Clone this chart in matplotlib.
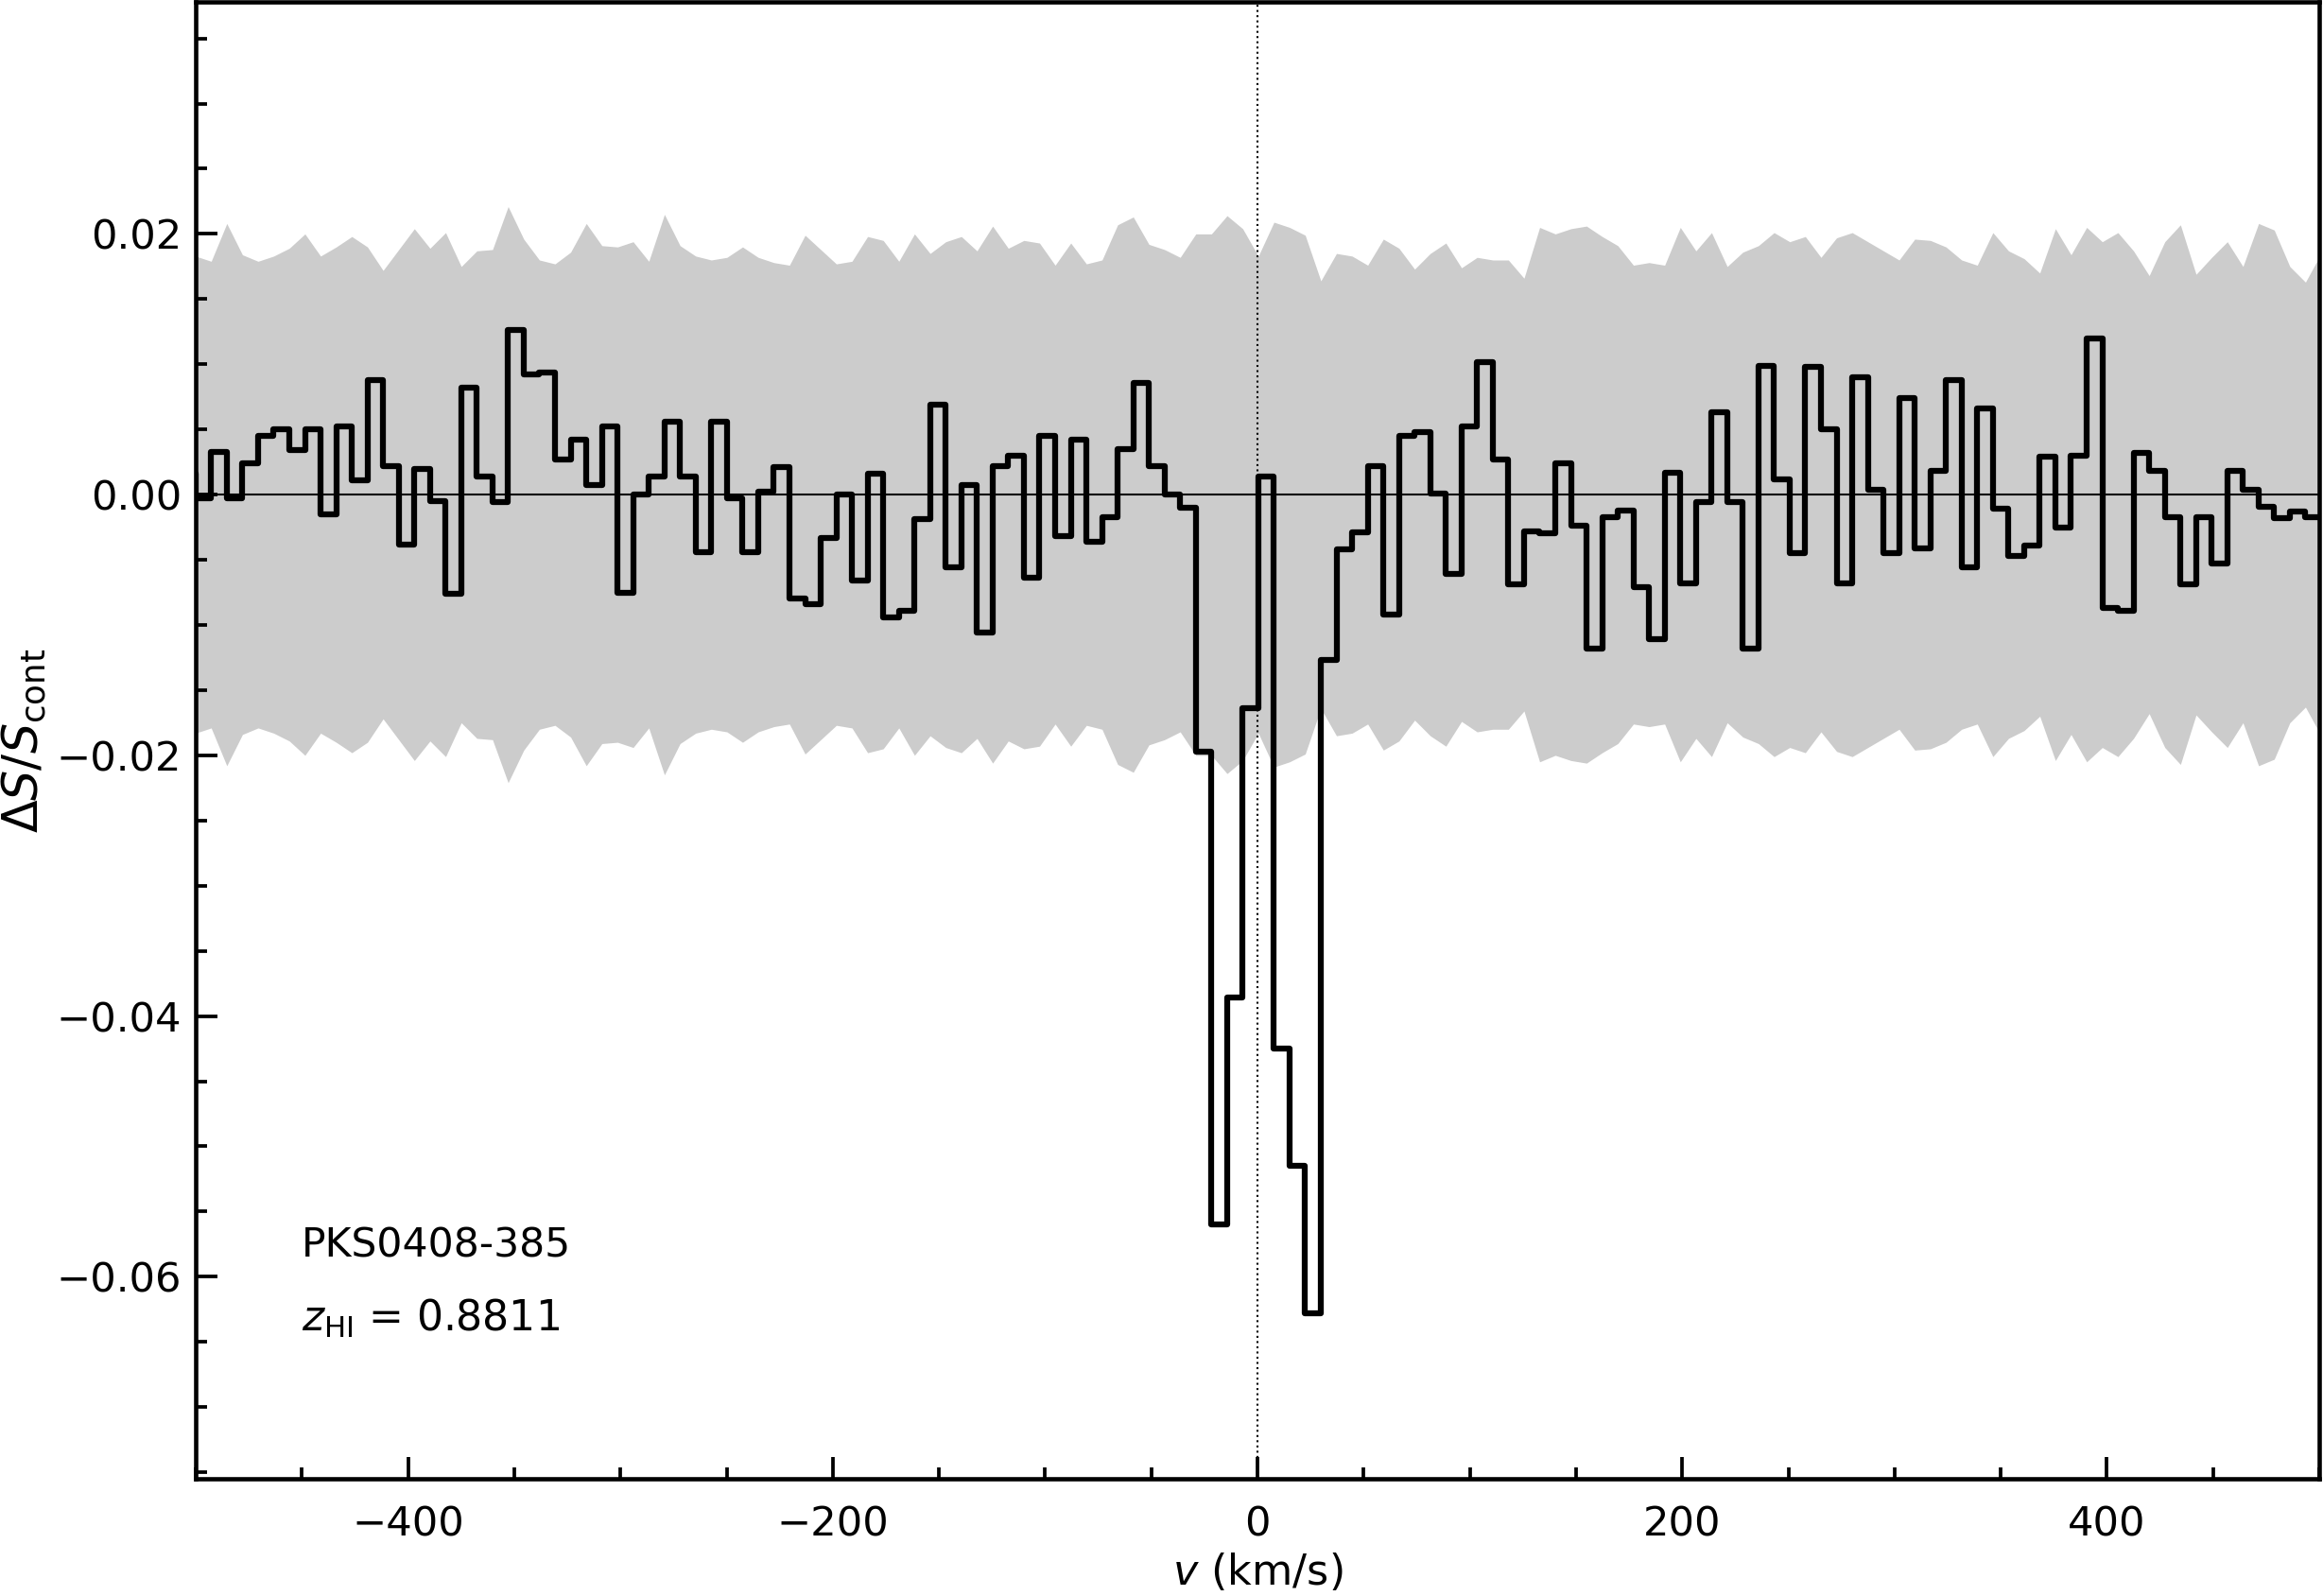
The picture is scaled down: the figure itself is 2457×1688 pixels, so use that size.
#!/usr/bin/env python

import numpy as np
from matplotlib import pyplot as plt
from matplotlib.ticker import MultipleLocator

# channel grid (km/s): first channel edge and ASKAP channel width at z=0.88
v_start = -507.44
chan_width = 7.36

# dS/S_cont per channel (value holds from this edge to the next)
flux = [0.0016, -0.0003, 0.0033, -0.0003, 0.0024, 0.0045, 0.0050, 0.0034, 0.0050, -0.0015,
        0.0052, 0.0011, 0.0088, 0.0022, -0.0038, 0.0020, -0.0005, -0.0076, 0.0082, 0.0014,
        -0.0006, 0.0126, 0.0092, 0.0094, 0.0027, 0.0042, 0.0007, 0.0052, -0.0075, 0.0000,
        0.0014, 0.0056, 0.0014, -0.0044, 0.0056, -0.0003, -0.0044, 0.0002, 0.0021, -0.0080,
        -0.0084, -0.0033, 0.0000, -0.0066, 0.0016, -0.0094, -0.0089, -0.0019, 0.0069, -0.0056,
        0.0007, -0.0106, 0.0022, 0.0030, -0.0064, 0.0045, -0.0032, 0.0042, -0.0036, -0.0017,
        0.0035, 0.0086, 0.0022, 0.0000, -0.0010, -0.0197, -0.0560, -0.0386, -0.0164, 0.0014,
        -0.0425, -0.0515, -0.0628, -0.0127, -0.0042, -0.0029, 0.0022, -0.0092, 0.0045, 0.0048,
        0.0001, -0.0061, 0.0052, 0.0102, 0.0027, -0.0069, -0.0028, -0.0030, 0.0024, -0.0024,
        -0.0118, -0.0017, -0.0012, -0.0071, -0.0111, 0.0017, -0.0068, -0.0006, 0.0063, -0.0006,
        -0.0118, 0.0099, 0.0012, -0.0045, 0.0098, 0.0050, -0.0068, 0.0090, 0.0004, -0.0045,
        0.0074, -0.0041, 0.0018, 0.0088, -0.0056, 0.0066, -0.0011, -0.0047, -0.0039, 0.0029,
        -0.0025, 0.0030, 0.0120, -0.0087, -0.0089, 0.0032, 0.0018, -0.0017, -0.0069, -0.0017,
        -0.0053, 0.0018, 0.0004, -0.0009, -0.0018, -0.0013, -0.0017, -0.0017]

# 1-sigma noise per channel
sigma = [0.0185, 0.0183, 0.0179, 0.0208, 0.0184, 0.0179, 0.0183, 0.0189, 0.0200, 0.0183,
         0.0190, 0.0198, 0.0190, 0.0172, 0.0188, 0.0204, 0.0189, 0.0201, 0.0175, 0.0187,
         0.0188, 0.0221, 0.0196, 0.0180, 0.0177, 0.0186, 0.0208, 0.0191, 0.0190, 0.0194,
         0.0179, 0.0215, 0.0191, 0.0183, 0.0180, 0.0182, 0.0190, 0.0182, 0.0178, 0.0176,
         0.0199, 0.0188, 0.0177, 0.0179, 0.0198, 0.0195, 0.0179, 0.0200, 0.0185, 0.0194,
         0.0198, 0.0187, 0.0206, 0.0189, 0.0195, 0.0193, 0.0176, 0.0193, 0.0177, 0.0180,
         0.0207, 0.0213, 0.0192, 0.0188, 0.0182, 0.0200, 0.0200, 0.0214, 0.0204, 0.0183,
         0.0209, 0.0205, 0.0199, 0.0164, 0.0185, 0.0183, 0.0176, 0.0196, 0.0189, 0.0173,
         0.0185, 0.0193, 0.0174, 0.0182, 0.0180, 0.0180, 0.0166, 0.0205, 0.0200, 0.0204,
         0.0206, 0.0198, 0.0191, 0.0176, 0.0178, 0.0176, 0.0205, 0.0187, 0.0201, 0.0175,
         0.0186, 0.0191, 0.0201, 0.0194, 0.0198, 0.0182, 0.0197, 0.0201, 0.0194, 0.0187,
         0.0180, 0.0196, 0.0195, 0.0190, 0.0180, 0.0176, 0.0201, 0.0187, 0.0181, 0.0170,
         0.0204, 0.0184, 0.0205, 0.0194, 0.0201, 0.0187, 0.0168, 0.0194, 0.0207, 0.0169,
         0.0182, 0.0194, 0.0175, 0.0208, 0.0203, 0.0175, 0.0163, 0.0185]

source = 'PKS0408-385'
z_hi = 0.8811

plt.rcParams['font.family'] = ['DejaVu Sans']
plt.rcParams['mathtext.fontset'] = 'dejavusans'

vel = v_start + chan_width * np.arange(len(flux))
flux = np.array(flux)
sigma = np.array(sigma)

fig = plt.figure(figsize=(2457 / 300, 1688 / 300), dpi=300)
ax = fig.add_axes([207 / 2457, 124 / 1688, 2246 / 2457, 1562 / 1688])

ax.fill_between(vel, -sigma, sigma, color='#cccccc', lw=0, zorder=1)
ax.axhline(0, color='k', lw=0.5, zorder=2)
ax.axvline(0, color='k', lw=0.5, ls=':', zorder=2)
ax.step(vel, flux, where='post', color='k', lw=1.5, zorder=3)

ax.set_xlim(-500, 500)
ax.set_ylim(-0.0755, 0.0378)
ax.xaxis.set_major_locator(MultipleLocator(200))
ax.xaxis.set_minor_locator(MultipleLocator(50))
ax.yaxis.set_major_locator(MultipleLocator(0.02))
ax.yaxis.set_minor_locator(MultipleLocator(0.005))
ax.tick_params(which='both', direction='in', top=False, right=False, labelsize=10.4)
ax.tick_params(which='major', length=5.5, width=0.9)
ax.tick_params(which='minor', length=2.8, width=0.9)
ax.tick_params(axis='x', which='both', pad=6.5)
for s in ax.spines.values():
    s.set_linewidth(1.1)

ax.set_xlabel(r'$v$ (km/s)', fontsize=10.7, labelpad=2)
ax.set_ylabel(r'$\Delta S/S_{\rm cont}$', fontsize=12.2, labelpad=2.2)

ax.text(0.05, 0.15, source, transform=ax.transAxes, fontsize=10.2)
ax.text(0.05, 0.10, r'$z_{\rm HI}$ = %.4f' % z_hi, transform=ax.transAxes, fontsize=10.6)

fig.savefig('out.png', dpi=300)
